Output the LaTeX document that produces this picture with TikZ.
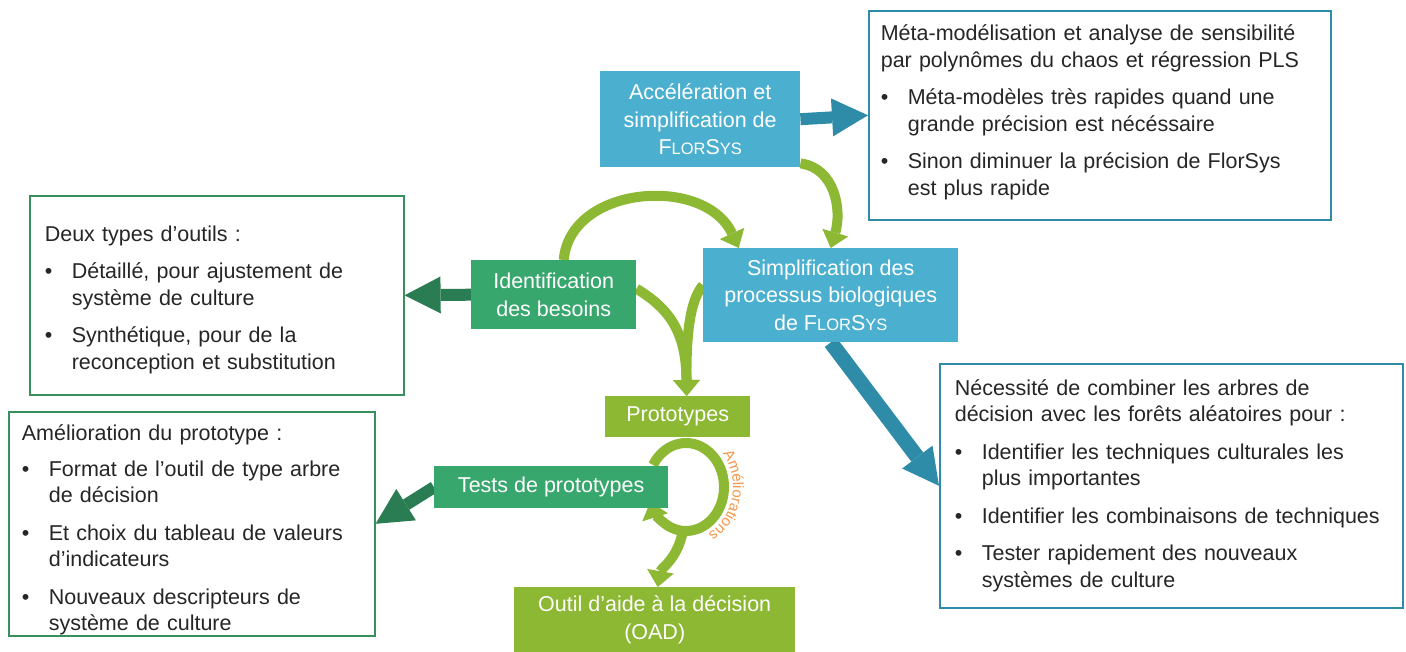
\documentclass[tikz,border=0pt]{standalone}
\usepackage{fontspec}
\setmainfont{Liberation Sans}
\usetikzlibrary{arrows.meta,decorations.text,calc,backgrounds}
\definecolor{cblue}{HTML}{4BAFCF}
\definecolor{cteal}{HTML}{2E8CA8}
\definecolor{cgreen}{HTML}{38A76E}
\definecolor{cdgreen}{HTML}{2A7D52}
\definecolor{clime}{HTML}{8CB833}
\definecolor{corange}{HTML}{F79646}
\definecolor{cborder}{HTML}{3A8F5E}
\definecolor{ctext}{HTML}{262626}
\newcommand{\bul}{\makebox[27pt][l]{•}}
\newcommand{\ind}{\hspace*{27pt}}
\newcommand{\flor}{F{\fontsize{16.5}{16.5}\selectfont LOR}S{\fontsize{16.5}{16.5}\selectfont YS}}
\begin{document}
\begin{tikzpicture}[x=1pt,y=-1pt,
  fillbox/.style={fill=#1, text=white, align=center, inner sep=0pt, anchor=north west,
    font=\fontsize{21.5}{27.5}\selectfont},
  infobox/.style={draw=#1, line width=1.6pt, fill=white, align=left, inner ysep=0pt,
    anchor=north west, text=ctext, font=\fontsize{21.5}{26.5}\selectfont},
  tarr/.style={draw=cteal, line width=12pt, -{Triangle[length=36pt,width=38pt,line width=0pt]}},
  darr/.style={draw=cdgreen, line width=12pt, -{Triangle[length=36pt,width=37pt,line width=0pt]}},
  garr/.style={draw=clime, line width=10pt, -{Triangle[length=16pt,width=27pt,line width=0pt]}}
]
\useasboundingbox (0,0) rectangle (1406,652);

% filled nodes
\node[fillbox=cblue, minimum width=200pt, minimum height=96pt] (acc) at (600,71)
  {Accélération et\\simplification de\\\flor};
\node[fillbox=cblue, minimum width=255pt, minimum height=94pt] (simp) at (703,248)
  {Simplification des\\processus biologiques\\de \flor};
\node[fillbox=cgreen, minimum width=165pt, minimum height=69pt] (ident) at (471,260)
  {Identification\\des besoins};
\node[fillbox=clime, minimum width=145pt, minimum height=41pt] (proto) at (605,396)
  {Prototypes};
\node[fillbox=cgreen, minimum width=234pt, minimum height=42pt] (tests) at (434,466)
  {Tests de prototypes};
\node[fillbox=clime, minimum width=281pt, minimum height=65pt] (oad) at (514,587)
  {Outil d’aide à la décision\\(OAD)};

% info boxes
\node[infobox=cteal, inner xsep=12pt, text width=438pt, minimum height=209pt] (meta) at (868,10)
  {Méta-modélisation et analyse de sensibilité\\
   par polynômes du chaos et régression PLS\\[11pt]
   \bul Méta-modèles très rapides quand une\\
   \ind grande précision est nécéssaire\\[11pt]
   \bul Sinon diminuer la précision de FlorSys\\
   \ind est plus rapide\rule[-10pt]{0pt}{10pt}};
\node[infobox=cborder, inner xsep=15pt, text width=344pt, minimum height=199pt] (deux) at (29,195)
  {\rule{0pt}{24pt}Deux types d’outils :\\[11pt]
   \bul Détaillé, pour ajustement de\\
   \ind système de culture\\[11pt]
   \bul Synthétique, pour de la\\
   \ind reconception et substitution};
\node[infobox=cborder, inner xsep=13pt, text width=340pt, minimum height=224pt] (amel) at (8,411)
  {\rule{0pt}{28pt}Amélioration du prototype :\\[9pt]
   \bul Format de l’outil de type arbre\\
   \ind de décision\\[11pt]
   \bul Et choix du tableau de valeurs\\
   \ind d’indicateurs\\[11pt]
   \bul Nouveaux descripteurs de\\
   \ind système de culture};
\node[infobox=cteal, inner xsep=15pt, text width=433pt, minimum height=244pt] (neces) at (939,363)
  {Nécessité de combiner les arbres de\\
   décision avec les forêts aléatoires pour :\\[11pt]
   \bul Identifier les techniques culturales les\\
   \ind plus importantes\\[11pt]
   \bul Identifier les combinaisons de techniques\\[11pt]
   \bul Tester rapidement des nouveaux\\
   \ind systèmes de culture};

\coordinate (loopc) at (686,487);

\begin{scope}[on background layer]
  % block arrows
  \draw[tarr] (acc.east) -- (meta.west);
  \draw[tarr, line width=15pt] (simp.south) -- (neces.west);
  \draw[darr] (ident.west) -- (deux.east);
  \draw[darr] (tests.west) -- (amel.east);
  % curved green arrows
  \draw[garr] ($(ident.north)+(10,0)$) .. controls (570,185) and (705,175) .. ($(simp.north)+(-92,0)$);
  \draw[garr] ($(acc.south east)+(0,-4)$) .. controls (835,168) and (842,210) .. (simp.north);
  \draw[garr] ($(ident.east)+(0,-6)$) .. controls (672,310) and (686,335) .. ($(proto.north)+(9,0)$);
  \draw[garr] ($(simp.west)+(0,-10)$) .. controls (690,300) and (686,335) .. ($(proto.north)+(9,0)$);
  % loop
  \draw[garr] ($(loopc)+(210:38 and 44)$) arc[start angle=210, end angle=520, x radius=38, y radius=44];
  \draw[garr] ($(loopc)+(-3,44)$) .. controls (677,560) and (661,568) .. ($(oad.north)+(3,0)$);
\end{scope}

\path[decorate, decoration={text along path, text align=center,
   text={|\color{corange}\fontsize{15}{15}\selectfont|Améliorations}}]
   ($(loopc)+(-58:47 and 53)$) arc[start angle=-58, end angle=82, x radius=47, y radius=53];
\end{tikzpicture}
\end{document}
